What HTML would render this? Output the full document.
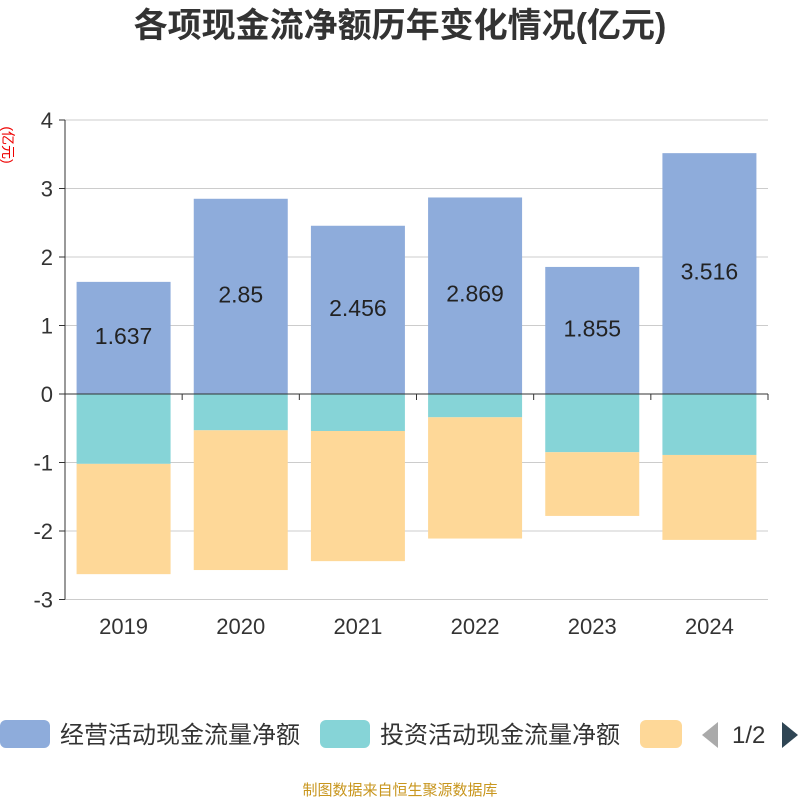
<!DOCTYPE html>
<html><head><meta charset="utf-8"><style>
body{margin:0;background:#fff;font-family:"Liberation Sans","Noto Sans CJK SC",sans-serif;}
</style></head><body>
<svg width="800" height="800" xmlns="http://www.w3.org/2000/svg" id="svg">
<text x="400" y="37" text-anchor="middle" font-size="34" font-weight="bold" fill="#333" font-family="Liberation Sans, Noto Sans CJK SC, sans-serif">各项现金流净额历年变化情况(亿元)</text>
<text transform="translate(3,145) rotate(90)" font-size="14" fill="#e00" text-anchor="middle" font-family="Liberation Sans, Noto Sans CJK SC, sans-serif">(亿元)</text>
<g id="grid"></g><g id="bars"></g><g id="axes"></g>
<g font-family="Liberation Sans, Noto Sans CJK SC, sans-serif" font-size="24" fill="#333">
<rect x="0" y="720" width="50" height="28" rx="6" fill="#8eacdb"/>
<text x="60" y="743">经营活动现金流量净额</text>
<rect x="320" y="720" width="50" height="28" rx="6" fill="#86d4d7"/>
<text x="380" y="743">投资活动现金流量净额</text>
<rect x="640" y="720" width="42" height="28" rx="6" fill="#fed898"/>
<path d="M718 722 L702 735 L718 748 Z" fill="#aaa"/>
<text x="732" y="743">1/2</text>
<path d="M782 722 L798 735 L782 748 Z" fill="#2f4554"/>
</g>
<text x="400" y="795" text-anchor="middle" font-size="15" fill="#c8961e" font-family="Liberation Sans, Noto Sans CJK SC, sans-serif">制图数据来自恒生聚源数据库</text>
</svg>
<script>
const categories=["2019","2020","2021","2022","2023","2024"];
const operating=[1.637,2.85,2.456,2.869,1.855,3.516];
const investing=[-1.02,-0.53,-0.54,-0.34,-0.85,-0.89];
const financing=[-1.61,-2.04,-1.90,-1.77,-0.93,-1.24];
const yTicks=[4,3,2,1,0,-1,-2,-3];
const NS="http://www.w3.org/2000/svg";
const x0=65,x1=768,bw=94;
const cw=(x1-x0)/categories.length;
function y(v){return 394-v*68.5;}
function mk(t,a,p){const e=document.createElementNS(NS,t);for(const k in a)e.setAttribute(k,a[k]);p.appendChild(e);return e;}
const grid=document.getElementById('grid'),bars=document.getElementById('bars'),axes=document.getElementById('axes');
yTicks.forEach(t=>{
 if(t!==0){const l=mk('line',{x1:x0,x2:x1,y1:y(t),y2:y(t),stroke:'#ccc','stroke-width':1},grid);
 
 }
 const tk=mk('line',{x1:x0-6,x2:x0,y1:y(t),y2:y(t),stroke:'#333'},axes);
 
 
 const tx=mk('text',{x:x0-12,y:y(t)+8,'text-anchor':'end','font-size':22,fill:'#333','font-family':'Liberation Sans, sans-serif'},axes);
 tx.textContent=t;
 
 
});
const ya=mk('line',{x1:x0,x2:x0,y1:y(4),y2:y(-3),stroke:'#333'},axes);


const xa=mk('line',{x1:x0,x2:x1,y1:y(0),y2:y(0),stroke:'#333'},axes);


for(let i=0;i<=categories.length;i++){
 const t=mk('line',{x1:x0+i*cw,x2:x0+i*cw,y1:y(0),y2:y(0)+6,stroke:'#333'},axes);
 
 
}
categories.forEach((c,i)=>{
 const cx=x0+cw*(i+0.5),bx=cx-bw/2;
 const o=mk('rect',{x:bx,y:y(operating[i]),width:bw,height:y(0)-y(operating[i]),fill:'#8eacdb'},bars);
 
 
 const iv=mk('rect',{x:bx,y:y(0),width:bw,height:y(investing[i])-y(0),fill:'#86d4d7'},bars);
 
 
 const f=mk('rect',{x:bx,y:y(investing[i]),width:bw,height:y(investing[i]+financing[i])-y(investing[i]),fill:'#fed898'},bars);
 
 
 const lb=mk('text',{x:cx,y:(y(operating[i])+y(0))/2+6,'text-anchor':'middle','font-size':23,fill:'#222','font-family':'Liberation Sans, sans-serif'},bars);
 lb.textContent=operating[i];
 
 
 const xl=mk('text',{x:cx,y:634,'text-anchor':'middle','font-size':22,fill:'#333','font-family':'Liberation Sans, sans-serif'},axes);
 xl.textContent=c;
 
 
});
</script>
</body></html>
